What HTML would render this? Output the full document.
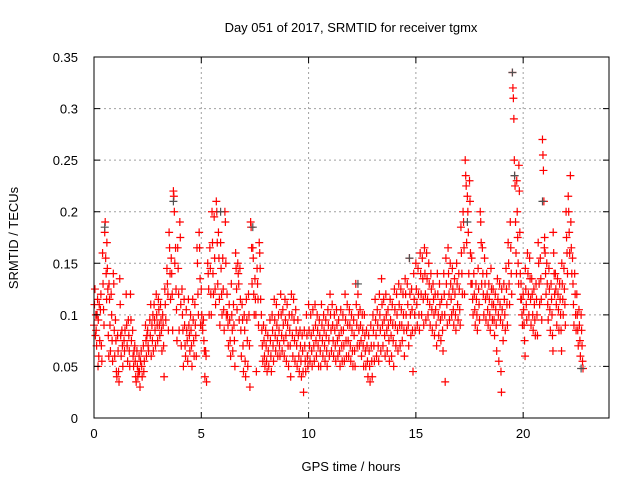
<!DOCTYPE html>
<html><head><meta charset="utf-8"><style>
body{margin:0;background:#fff;width:640px;height:480px;overflow:hidden}
text{font-family:"Liberation Sans",sans-serif;font-size:13px;fill:#000}
</style></head><body>
<svg id="chart" width="640" height="480" xmlns="http://www.w3.org/2000/svg">
<rect width="640" height="480" fill="#fff"/>
<g id="grid"></g>
<g id="marks"></g>
<g id="axes"></g>
<text x="351" y="32" text-anchor="middle">Day 051 of 2017, SRMTID for receiver tgmx</text>
<text x="351" y="471" text-anchor="middle">GPS time / hours</text>
<text transform="translate(18,238) rotate(-90)" text-anchor="middle">SRMTID / TECUs</text>
</svg>
<script>
const xTicks=[0,5,10,15,20];
const yTicks=[0,0.05,0.1,0.15,0.2,0.25,0.3,0.35];
const yTickLabels=["0","0.05","0.1","0.15","0.2","0.25","0.3","0.35"];
const hours=[0.0,0.1,0.2,0.3,0.4,0.5,0.6,0.7,0.8,0.9,1.0,1.1,1.2,1.3,1.4,1.5,1.6,1.7,1.8,1.9,2.0,2.1,2.2,2.3,2.4,2.5,2.6,2.7,2.8,2.9,3.0,3.1,3.2,3.3,3.4,3.5,3.6,3.7,3.8,3.9,4.0,4.1,4.2,4.3,4.4,4.5,4.6,4.7,4.8,4.9,5.0,5.1,5.2,5.3,5.4,5.5,5.6,5.7,5.8,5.9,6.0,6.1,6.2,6.3,6.4,6.5,6.6,6.7,6.8,6.9,7.0,7.1,7.2,7.3,7.4,7.5,7.6,7.7,7.8,7.9,8.0,8.1,8.2,8.3,8.4,8.5,8.6,8.7,8.8,8.9,9.0,9.1,9.2,9.3,9.4,9.5,9.6,9.7,9.8,9.9,10.0,10.1,10.2,10.3,10.4,10.5,10.6,10.7,10.8,10.9,11.0,11.1,11.2,11.3,11.4,11.5,11.6,11.7,11.8,11.9,12.0,12.1,12.2,12.3,12.4,12.5,12.6,12.7,12.8,12.9,13.0,13.1,13.2,13.3,13.4,13.5,13.6,13.7,13.8,13.9,14.0,14.1,14.2,14.3,14.4,14.5,14.6,14.7,14.8,14.9,15.0,15.1,15.2,15.3,15.4,15.5,15.6,15.7,15.8,15.9,16.0,16.1,16.2,16.3,16.4,16.5,16.6,16.7,16.8,16.9,17.0,17.1,17.2,17.3,17.4,17.5,17.6,17.7,17.8,17.9,18.0,18.1,18.2,18.3,18.4,18.5,18.6,18.7,18.8,18.9,19.0,19.1,19.2,19.3,19.4,19.5,19.6,19.7,19.8,19.9,20.0,20.1,20.2,20.3,20.4,20.5,20.6,20.7,20.8,20.9,21.0,21.1,21.2,21.3,21.4,21.5,21.6,21.7,21.8,21.9,22.0,22.1,22.2,22.3,22.4,22.5,22.6,22.7];
const tecValues=[
[.09,.11,.125,.08,.10],[.085,.07,.10,.115,.05],[.095,.06,.11,.075],[.105,.12,.07,.055],[.16,.13,.105,.09],[.18,.19,.155,.14,.115],[.17,.145,.125,.08,.06],[.13,.115,.09,.065],[.12,.10,.075,.055],[.14,.13,.085,.06],
[.095,.075,.045,.04],[.08,.065,.045,.035],[.135,.11,.08,.06],[.085,.07,.05],[.075,.065,.085],[.12,.09,.07,.055],[.095,.08,.065,.05],[.12,.095,.075],[.085,.06,.05,.065],[.07,.055,.04,.035],
[.065,.05,.04,.045],[.06,.045,.03,.055],[.065,.05,.04],[.07,.045,.055],[.09,.075,.06,.08],[.085,.07,.065],[.095,.08,.11,.06],[.09,.075,.1,.065],[.11,.095,.085,.07],[.12,.1,.09,.075],
[.115,.105,.09,.08],[.11,.095,.085,.065],[.1,.09,.07,.04],[.125,.11,.095],[.145,.13,.12,.085],[.18,.165,.14,.115],[.155,.14,.12,.085],[.22,.215,.2,.15],[.165,.125,.105,.075],[.165,.145,.12,.085],
[.19,.175,.11,.07],[.125,.1,.085,.05],[.115,.09,.07,.06],[.105,.085,.075,.055],[.115,.09,.08,.065],[.1,.085,.07,.05],[.115,.095,.075,.06],[.11,.09,.08,.06],[.165,.15,.12,.1],[.18,.165,.135,.09],
[.125,.1,.09,.085],[.095,.075,.065,.04],[.065,.06,.035],[.15,.14,.125,.1],[.165,.145,.12,.1],[.2,.17,.14,.12],[.195,.155,.125,.11],[.21,.2,.17,.13],[.18,.155,.115,.09],[.17,.145,.12,.1],
[.155,.125,.105,.085],[.2,.19,.15,.1],[.12,.1,.09,.07],[.11,.095,.075,.06],[.13,.1,.085,.065],[.11,.09,.075,.05],[.16,.145,.125,.105],[.15,.14,.13,.095],[.145,.115,.085,.06],[.11,.095,.07,.045],
[.1,.085,.055,.04],[.115,.095,.075,.05],[.12,.1,.07,.03],[.19,.185,.165,.13],[.165,.155,.12,.1],[.135,.115,.1,.045],[.145,.13,.115,.09],[.17,.16,.145,.115],[.1,.085,.07,.055],[.09,.075,.06,.05],
[.085,.07,.055,.045],[.08,.065,.05],[.095,.075,.06,.045],[.1,.085,.07,.055],[.115,.095,.08,.065],[.11,.09,.075,.06],[.1,.085,.07,.06],[.12,.1,.08,.065],[.105,.09,.075,.06],[.115,.095,.08,.055],
[.11,.09,.07,.05],[.1,.085,.07,.04],[.12,.1,.08,.06],[.115,.095,.075,.055],[.105,.085,.07,.05],[.095,.08,.06,.045],[.085,.07,.055,.04],[.08,.065,.045,.025],[.085,.07,.055,.045],[.1,.08,.06,.05],
[.11,.085,.07,.055],[.1,.08,.065,.05],[.105,.085,.07,.055],[.11,.09,.075,.06],[.1,.085,.07,.05],[.095,.08,.065,.05],[.11,.09,.075,.06],[.1,.085,.07,.055],[.095,.08,.065,.05],[.105,.09,.075,.06],
[.12,.1,.085,.065],[.11,.09,.075,.06],[.1,.085,.07,.055],[.105,.09,.075,.06],[.095,.08,.065,.05],[.105,.085,.07,.055],[.1,.085,.07,.055],[.12,.095,.075,.06],[.11,.09,.075,.06],[.105,.09,.07,.055],
[.1,.085,.065,.05],[.095,.08,.065,.05],[.13,.11,.09,.07],[.12,.1,.085,.07],[.105,.09,.075,.06],[.1,.085,.07,.05],[.1,.08,.065,.05],[.085,.07,.055,.04],[.08,.065,.05,.035],[.09,.07,.055,.04],
[.1,.085,.07,.055],[.115,.095,.08,.06],[.105,.09,.07,.055],[.12,.1,.085,.065],[.135,.11,.09,.07],[.115,.095,.08,.06],[.12,.1,.085,.065],[.105,.09,.075,.055],[.115,.095,.08,.06],[.11,.09,.075,.05],
[.125,.105,.09,.07],[.12,.1,.085,.065],[.13,.11,.09,.07],[.125,.105,.09,.075],[.12,.1,.085,.06],[.135,.12,.1,.085],[.13,.11,.09,.07],[.155,.12,.1,.08],[.125,.105,.085,.045],[.14,.115,.1,.085],
[.15,.125,.11,.09],[.145,.12,.1,.085],[.16,.14,.12,.1],[.155,.135,.115,.09],[.165,.14,.12,.095],[.16,.135,.115,.1],[.15,.13,.11,.09],[.14,.125,.105,.085],[.13,.115,.1,.08],[.12,.105,.09,.07],
[.14,.12,.1,.08],[.13,.11,.095,.075],[.115,.1,.085,.065],[.14,.12,.1,.035],[.155,.13,.11,.09],[.165,.14,.12,.095],[.15,.13,.115,.1],[.145,.125,.105,.09],[.135,.12,.1,.085],[.15,.13,.11,.095],
[.14,.125,.105,.09],[.185,.16,.14,.12],[.2,.19,.165,.12],[.25,.235,.225,.17],[.215,.2,.18,.14],[.23,.21,.16,.13],[.155,.13,.115,.1],[.14,.12,.105,.09],[.13,.115,.1,.085],[.145,.125,.11,.095],
[.2,.19,.17,.13],[.165,.14,.12,.1],[.155,.13,.115,.095],[.14,.12,.105,.09],[.13,.115,.1,.085],[.145,.125,.11,.095],[.125,.11,.095,.08],[.12,.105,.09,.065],[.135,.115,.1,.055],[.13,.11,.095,.045,.025],
[.125,.105,.09,.075],[.13,.115,.1,.085],[.145,.125,.11,.09],[.17,.15,.13,.11],[.19,.165,.14,.12],[.335,.32,.31,.29,.25],[.235,.225,.19,.16,.14],[.23,.2,.175,.15,.13],[.245,.22,.18,.14,.115],[.13,.115,.1,.09],
[.12,.105,.09,.075,.06],[.145,.125,.11,.095],[.16,.14,.12,.1],[.155,.135,.115,.09],[.135,.12,.1,.085],[.125,.11,.095,.08],[.13,.115,.1,.08],[.17,.15,.13,.11],[.155,.135,.115,.095],[.27,.255,.24,.21,.165],
[.175,.16,.14,.12],[.15,.13,.11,.095],[.145,.125,.105,.085],[.13,.115,.1,.08,.065],[.18,.16,.14,.12],[.14,.125,.11,.09],[.135,.12,.105,.085],[.13,.115,.1,.085,.065],[.15,.13,.115,.1],[.145,.125,.11,.09],
[.2,.175,.16,.14],[.215,.2,.18,.16],[.235,.19,.165,.14],[.155,.13,.11,.09],[.14,.12,.1,.085],[.12,.1,.085,.07],[.105,.09,.075,.06],[.1,.085,.07,.055,.048]];
const greyHours=[0.5,3.7,5.9,7.4,12.3,14.7,17.4,19.5,19.6,20.9,22.7];
const greyValues=[.185,.21,.2,.185,.13,.155,.19,.335,.235,.21,.048];

const L=94,R=609,T=57,B=418;
const X=h=>L+h/24*(R-L);
const Y=v=>B-v/0.35*(B-T);
const NS="http://www.w3.org/2000/svg";
function mk(tag,attrs,parent){const e=document.createElementNS(NS,tag);for(const k in attrs)e.setAttribute(k,attrs[k]);parent.appendChild(e);return e;}
const grid=document.getElementById('grid'),axes=document.getElementById('axes'),marks=document.getElementById('marks');
xTicks.forEach(t=>{
 const gl=mk('line',{x1:X(t),x2:X(t),y1:T,y2:B,stroke:'#a0a0a0','stroke-dasharray':'2,3'},grid);
 
 
 const tk=mk('path',{d:`M${X(t)},${B}v-6M${X(t)},${T}v6`,stroke:'#000'},axes);
 
 
 const tl=mk('text',{x:X(t),y:B+20,'text-anchor':'middle'},axes);tl.textContent=t;
 
 
});
yTicks.forEach((t,i)=>{
 const gl=mk('line',{x1:L,x2:R,y1:Y(t),y2:Y(t),stroke:'#a0a0a0','stroke-dasharray':'2,3'},grid);
 
 
 const tk=mk('path',{d:`M${L},${Y(t)}h6M${R},${Y(t)}h-6`,stroke:'#000'},axes);
 
 
 const tl=mk('text',{x:L-16,y:Y(t)+5,'text-anchor':'end'},axes);tl.textContent=yTickLabels[i];
 
 
});
const frame=mk('rect',{x:L,y:T,width:R-L,height:B-T,fill:'none',stroke:'#000'},axes);


function plus(h,v,color){
 const p=mk('path',{d:`M${X(h)-4},${Y(v)}h8M${X(h)},${Y(v)-4}v8`,stroke:color,'stroke-width':1.2,fill:'none'},marks);
 return p;
}
hours.forEach((h,i)=>{
 tecValues[i].forEach((v,j)=>{
  const p=plus(h+j*0.022,v,'#ff0000');
  
  
 });
});
greyHours.forEach((h,i)=>{
 const p=plus(h,greyValues[i],'#505050');
 
 
});
</script>
</body></html>
